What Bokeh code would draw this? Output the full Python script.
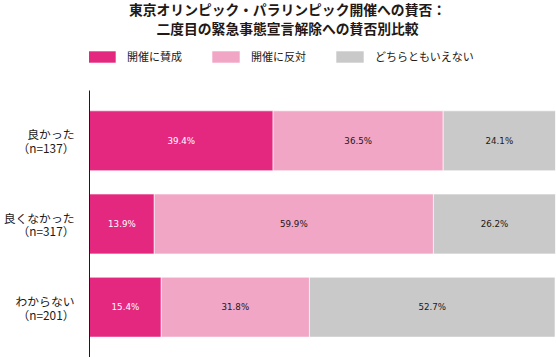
from bokeh.plotting import figure
from bokeh.models import ColumnDataSource, Range1d, FixedTicker, Legend, LegendItem, Label
from bokeh.core.properties import value
from bokeh.embed import file_html
from bokeh.resources import INLINE

title_lines = ["東京オリンピック・パラリンピック開催への賛否：", "二度目の緊急事態宣言解除への賛否別比較"]
categories = ["良かった\n（n=137）", "良くなかった\n（n=317）", "わからない\n（n=201）"]
series_names = ["開催に賛成", "開催に反対", "どちらともいえない"]
favor = [39.4, 13.9, 15.4]
oppose = [36.5, 59.9, 31.8]
neither = [24.1, 26.2, 52.7]

colors = ["#E4287F", "#F1A6C6", "#C9C9C9"]
label_colors = ["white", "#231815", "#231815"]
FONT = "Noto Sans CJK JP"

ys = list(range(len(categories)))
src = ColumnDataSource(dict(y=ys, favor=favor, oppose=oppose, neither=neither))

p = figure(width=556, height=357, output_backend="svg", toolbar_location=None,
           x_range=Range1d(0, 100), y_range=Range1d(2.605, -1.6863),
           x_axis_location=None, min_border_left=88, min_border_right=1,
           min_border_bottom=0, min_border_top=0)
p.outline_line_color = None
p.grid.visible = False

renderers = p.hbar_stack(["favor", "oppose", "neither"], y="y", height=0.72, source=src,
                         color=colors, line_color="white", line_width=0.6)

# value labels
series = [favor, oppose, neither]
for si, vals in enumerate(series):
    xs, ls = [], []
    for i in range(len(vals)):
        left = sum(series[k][i] for k in range(si))
        xs.append(left + vals[i] / 2)
        ls.append(f"{vals[i]:.1f}%")
    p.text(x=xs, y=ys, text=ls, text_align="center", text_baseline="middle",
           text_font=value("DejaVu Sans"), text_font_size="8.7px", text_color=label_colors[si])

ax = p.yaxis[0]
ax.ticker = FixedTicker(ticks=ys)
ax.bounds = (-0.605, 2.605)
ax.major_label_overrides = {i: c for i, c in enumerate(categories)}
ax.major_tick_line_color = None
ax.minor_tick_line_color = None
ax.axis_line_color = "#231815"
ax.axis_line_width = 1
ax.major_label_text_font = FONT
ax.major_label_text_font_size = "11.8px"
ax.major_label_text_color = "#231815"
ax.major_label_text_line_height = 0.82
ax.major_label_standoff = 9

legend = Legend(items=[LegendItem(label=n, renderers=[r]) for n, r in zip(series_names, renderers)],
                orientation="horizontal", location=(-5, 293),
                glyph_width=35, glyph_height=15, label_width=75, spacing=6,
                label_standoff=8, padding=0, margin=0, border_line_color=None,
                label_text_font=FONT, label_text_font_size="11px", label_text_color="#231815",
                background_fill_alpha=0)
p.add_layout(legend, "center")

title_y = [348.5, 329.5]
for t, yy in zip(title_lines, title_y):
    p.add_layout(Label(x=198, y=yy, x_units="screen", y_units="screen", text=t,
                       text_align="center", text_baseline="middle",
                       text_font=FONT, text_font_size="13.8px", text_font_style="bold",
                       text_color="#231815"))

open("out.html", "w").write(file_html(p, INLINE))
